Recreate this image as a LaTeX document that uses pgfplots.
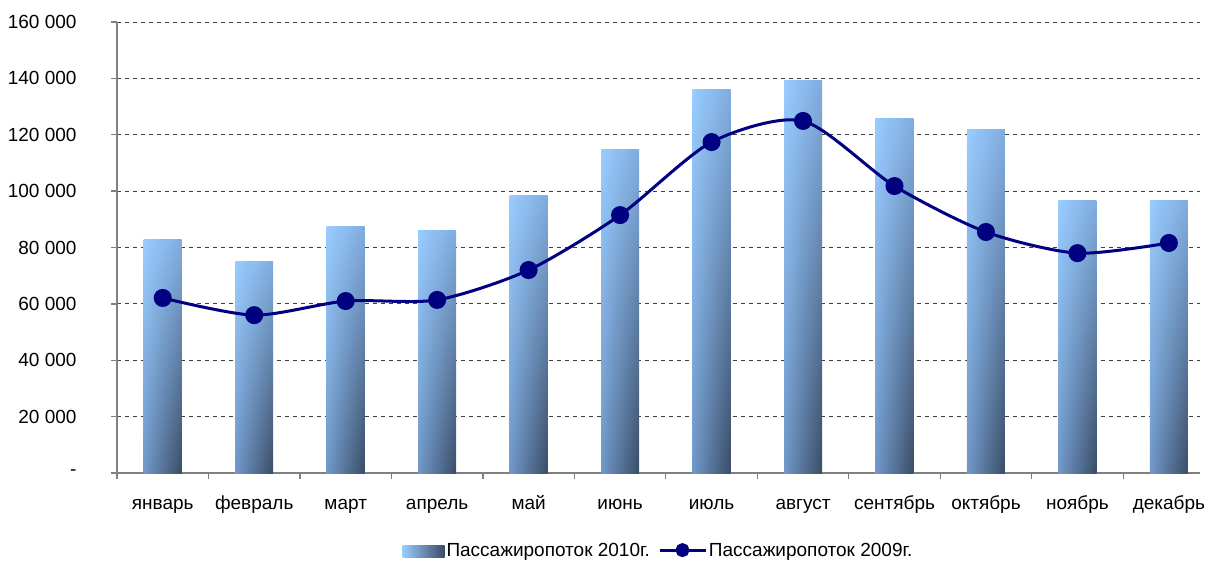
\documentclass[border=0pt]{standalone}
\usepackage{fontspec}
\setmainfont{Liberation Sans}
\usepackage{pgfplots}
\pgfplotsset{compat=1.18}
\usetikzlibrary{shadings}

\definecolor{barUL}{RGB}{153,204,255}
\definecolor{barUR}{RGB}{128,172,222}
\definecolor{barLL}{RGB}{112,152,200}
\definecolor{barLR}{RGB}{58,76,102}
\definecolor{navyline}{RGB}{0,0,128}
\definecolor{axisgray}{RGB}{128,128,128}

\pgfplotsset{
    barlegend/.style={legend image code/.code={%
        \path[left color=barUL, right color=barLR] (0bp,-7bp) rectangle (42bp,5bp);}},
    linelegend/.style={legend image code/.code={%
        \draw[##1, mark repeat=2, mark phase=2, mark size=5.5bp]
            plot coordinates {(0bp,0bp) (23bp,0bp) (46bp,0bp)};}},
    % one shaded bar per month, so that each bar carries its own gradient
    monthbar/.style={ybar, bar width=38bp, draw=none,
        upper left=barUL, upper right=barUR, lower left=barLL, lower right=barLR},
}

\begin{document}
\begin{tikzpicture}
\begin{axis}[
    scale only axis,
    width=1083bp, height=451bp,
    xmin=-0.5, xmax=11.34,
    ymin=0, ymax=160000,
    scaled y ticks=false,
    axis x line*=bottom, axis y line*=left,
    axis line style={axisgray, line width=1.3bp},
    xtick={-0.5,0.5,...,10.5},
    xticklabels={январь,февраль,март,апрель,май,июнь,июль,август,сентябрь,октябрь,ноябрь,декабрь},
    xticklabel style={xshift=45.75bp, yshift=-13bp, text height=14bp, text depth=4bp},
    ytick={0,20000,...,160000},
    yticklabels={-,20 000,40 000,60 000,80 000,100 000,120 000,140 000,160 000},
    yticklabel style={xshift=-31bp},
    tick label style={font=\fontsize{19bp}{22bp}\selectfont, text=black},
    major tick length=6bp,
    tick align=outside,
    tick style={axisgray, line width=1.3bp},
    ymajorgrids,
    grid style={black!75, line width=0.9bp, dash pattern=on 4bp off 4bp},
    legend columns=2,
    legend style={draw=none, at={(0.5,-0.171)}, anchor=center,
        font=\fontsize{19bp}{22bp}\selectfont,
        /tikz/every even column/.append style={column sep=6bp}},
    clip=false,
]
% passenger traffic 2010, monthly totals
\addplot[monthbar, barlegend] coordinates {(0,82700)};
\addlegendentry{Пассажиропоток 2010г.}
\addplot[monthbar, forget plot] coordinates {(1,74900)};
\addplot[monthbar, forget plot] coordinates {(2,87300)};
\addplot[monthbar, forget plot] coordinates {(3,86200)};
\addplot[monthbar, forget plot] coordinates {(4,98600)};
\addplot[monthbar, forget plot] coordinates {(5,114600)};
\addplot[monthbar, forget plot] coordinates {(6,136200)};
\addplot[monthbar, forget plot] coordinates {(7,139400)};
\addplot[monthbar, forget plot] coordinates {(8,125900)};
\addplot[monthbar, forget plot] coordinates {(9,121700)};
\addplot[monthbar, forget plot] coordinates {(10,96500)};
\addplot[monthbar, forget plot] coordinates {(11,96500)};
% passenger traffic 2009, monthly totals
\addplot[smooth, tension=0.45, navyline, line width=3bp, mark=*, mark size=7.5bp,
    mark options={fill=navyline, draw=navyline}, linelegend]
    coordinates {
    (0,62100) (1,56000) (2,61000) (3,61400) (4,72000) (5,91500)
    (6,117400) (7,124900) (8,101800) (9,85500) (10,78000) (11,81600)};
\addlegendentry{Пассажиропоток 2009г.}
\end{axis}
\pgfresetboundingbox
\path ([xshift=-117bp,yshift=-89bp]current axis.south west) rectangle ++(1206bp,562bp);
\end{tikzpicture}
\end{document}
